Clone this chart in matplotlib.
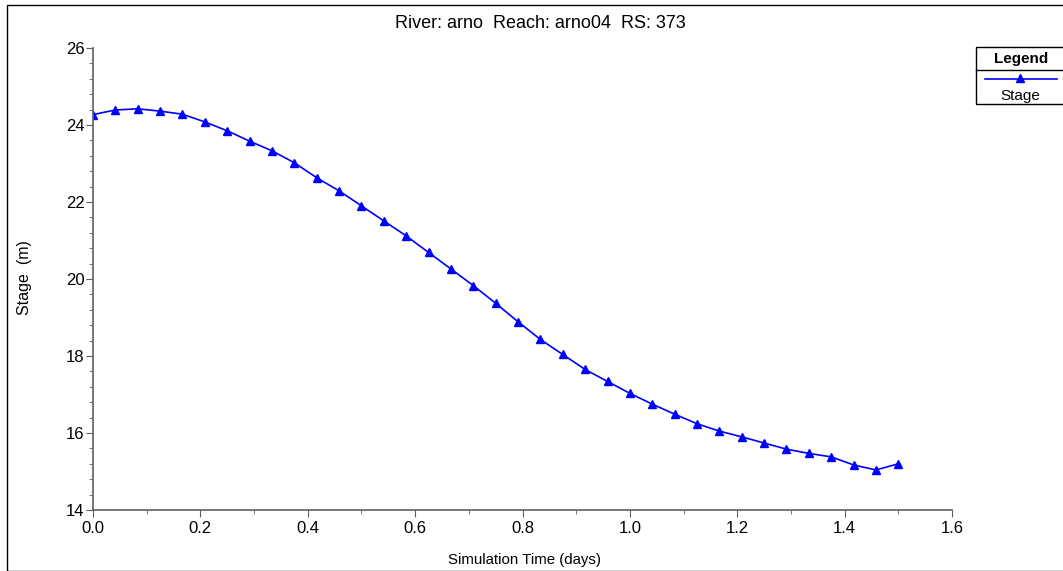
import matplotlib
matplotlib.use("Agg")
import matplotlib.pyplot as plt
from matplotlib.lines import Line2D
from matplotlib.patches import Rectangle
from matplotlib.ticker import MultipleLocator, FormatStrFormatter

plt.rcParams['font.family'] = ['Liberation Sans', 'DejaVu Sans']

# hourly output, simulation time in days
sim_time_days = [i / 24.0 for i in range(37)]
stage_m = [24.27, 24.39, 24.42, 24.36, 24.28, 24.08, 23.85, 23.58, 23.33, 23.02,
           22.63, 22.29, 21.90, 21.51, 21.12, 20.69, 20.26, 19.83, 19.37, 18.89,
           18.43, 18.04, 17.65, 17.34, 17.03, 16.75, 16.49, 16.24, 16.05, 15.90,
           15.74, 15.58, 15.47, 15.38, 15.17, 15.04, 15.20]

title = "River: arno  Reach: arno04  RS: 373"
series_name = "Stage"

W, H = 1063, 571
fig = plt.figure(figsize=(W / 100, H / 100), dpi=100)

# outer frame of the plot window
fig.patches.append(Rectangle((7 / W, 0), 1.2, 1 - 5 / H, transform=fig.transFigure,
                             fill=False, edgecolor="black", linewidth=1.0))

ax = fig.add_axes([93 / W, 1 - 510 / H, (952 - 93) / W, (510 - 48) / H])
ax.plot(sim_time_days, stage_m, color="#0000ff", linewidth=1.2, marker="^",
        markersize=6, markerfacecolor="#0000ff", markeredgecolor="#0000ff")

ax.set_xlim(0, 1.6)
ax.set_ylim(14, 26)
ax.xaxis.set_major_locator(MultipleLocator(0.2))
ax.xaxis.set_minor_locator(MultipleLocator(0.1))
ax.yaxis.set_major_locator(MultipleLocator(2))
ax.yaxis.set_minor_locator(MultipleLocator(0.4))
ax.xaxis.set_major_formatter(FormatStrFormatter("%.1f"))
ax.yaxis.set_major_formatter(FormatStrFormatter("%d"))

for side in ["top", "right"]:
    ax.spines[side].set_visible(False)
for side in ["left", "bottom"]:
    ax.spines[side].set_color("#606060")
    ax.spines[side].set_linewidth(1.2)
ax.tick_params(which="major", direction="out", length=5, color="#606060",
               labelsize=12, pad=1)
ax.tick_params(axis="x", which="major", pad=3)
ax.tick_params(which="minor", direction="out", length=3, color="#606060")

fig.text(540 / W, 1 - 23 / H, title, ha="center", va="center", fontsize=13)
fig.text(25 / W, 1 - 278 / H, "Stage  (m)", rotation=90, ha="center", va="center",
         fontsize=11.5)
fig.text(525 / W, 1 - 560 / H, "Simulation Time (days)", ha="center", va="center",
         fontsize=10.8)

# legend box, clipped at the right edge like the original window
lx0, ly0, ly1 = 976, 47, 104
fig.patches.append(Rectangle((lx0 / W, 1 - ly1 / H), 0.2, (ly1 - ly0) / H,
                             transform=fig.transFigure, fill=True, facecolor="white",
                             edgecolor="black", linewidth=1.0))
fig.lines.append(Line2D([lx0 / W, 1.1], [1 - 70 / H, 1 - 70 / H],
                        transform=fig.transFigure, color="black", linewidth=1.0))
fig.text(1021 / W, 1 - 59 / H, "Legend", ha="center", va="center", fontsize=11,
         fontweight="bold")
fig.lines.append(Line2D([985 / W, 1057 / W], [1 - 79 / H, 1 - 79 / H],
                        transform=fig.transFigure, color="#0000ff", linewidth=1.2))
fig.lines.append(Line2D([1020 / W], [1 - 78 / H], transform=fig.transFigure,
                        color="#0000ff", marker="^", markersize=6, linestyle="none"))
fig.text(1020 / W, 1 - 96 / H, series_name, ha="center", va="center", fontsize=11)

fig.savefig("out.png", dpi=100)
